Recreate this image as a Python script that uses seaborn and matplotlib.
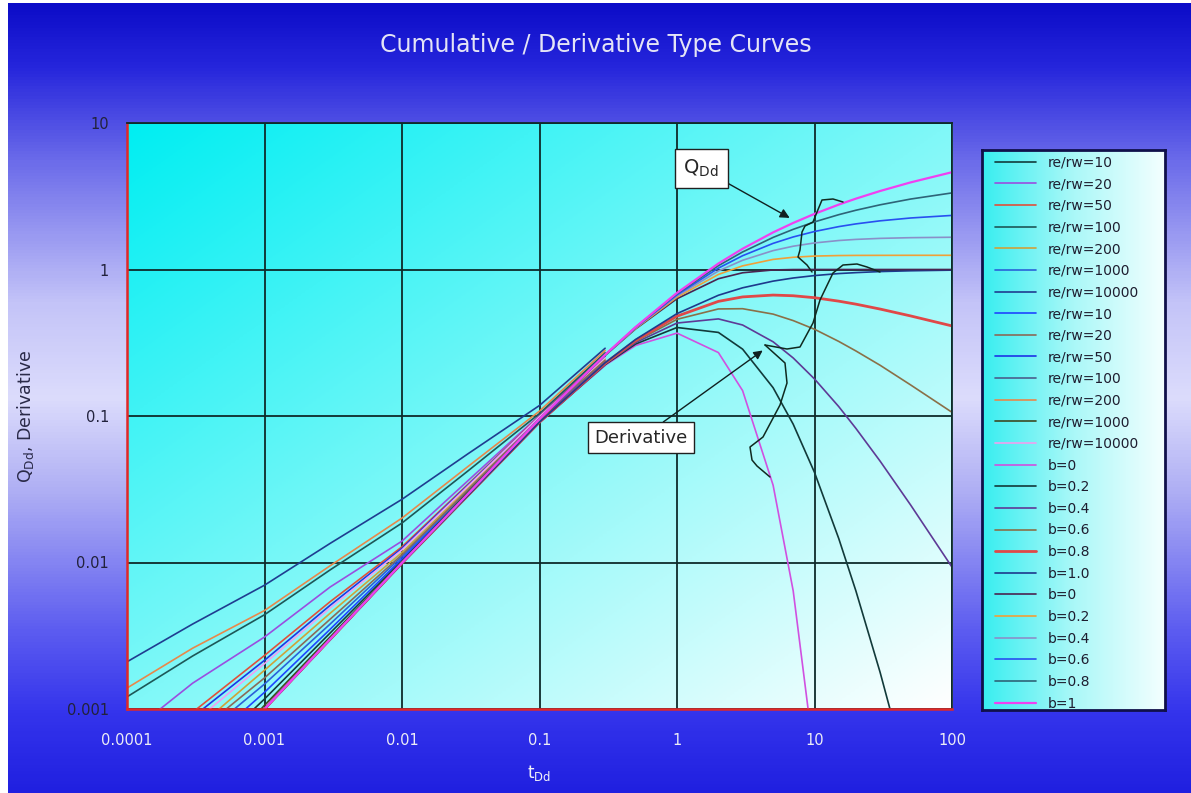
import numpy as np
import pandas as pd
import seaborn as sns
import matplotlib.pyplot as plt
from matplotlib.colors import LinearSegmentedColormap
from matplotlib.lines import Line2D

sns.set_style("white")
plt.rcParams['font.family'] = ['DejaVu Sans']
plt.rcParams['mathtext.fontset'] = 'dejavusans'

W, H = 1191, 793

# ---- data ----
re_rw = [10, 20, 50, 100, 200, 1000, 10000]
b_deriv_names = ["0", "0.2", "0.4", "0.6", "0.8", "1.0"]
b_cum_names = ["0", "0.2", "0.4", "0.6", "0.8", "1"]

# transient stems (early time)
t_stem = [0.0001, 0.0003, 0.001, 0.003, 0.01, 0.03, 0.1, 0.3]
stems_1 = [
    [0.00012, 0.0004, 0.00117, 0.0033, 0.0103, 0.0302, 0.094, 0.228],
    [0.00066, 0.0015, 0.0031, 0.0068, 0.0140, 0.036, 0.101, 0.265],
    [0.00042, 0.00095, 0.00232, 0.0054, 0.0128, 0.034, 0.100, 0.26],
    [0.00121, 0.0023, 0.0044, 0.0089, 0.0186, 0.042, 0.104, 0.27],
    [0.00027, 0.0007, 0.00184, 0.0045, 0.0117, 0.032, 0.098, 0.245],
    [0.0002, 0.00058, 0.00148, 0.0038, 0.0110, 0.031, 0.096, 0.235],
    [0.0021, 0.0038, 0.0070, 0.0135, 0.027, 0.055, 0.118, 0.29],
]
stems_2 = [
    [0.00016, 0.00048, 0.0013, 0.0035, 0.0106, 0.030, 0.095, 0.23],
    [0.00024, 0.00065, 0.00163, 0.0041, 0.0113, 0.031, 0.097, 0.24],
    [0.00036, 0.00088, 0.00215, 0.0051, 0.0125, 0.0335, 0.099, 0.255],
    [0.0001, 0.0003, 0.00101, 0.00302, 0.0100, 0.0297, 0.092, 0.222],
    [0.00139, 0.0026, 0.0047, 0.0095, 0.0201, 0.045, 0.108, 0.28],
    [0.0001, 0.00031, 0.00106, 0.0031, 0.0101, 0.030, 0.093, 0.225],
    [0.00033, 0.0008, 0.00204, 0.0049, 0.0122, 0.033, 0.099, 0.25],
]

# depletion curves
t_b = [0.001, 0.01, 0.1, 0.3, 0.5, 1, 2, 3, 5, 7, 10, 15, 20, 30, 50, 100]
deriv_b = [
    [0.001, 0.0099, 0.0905, 0.222, 0.303, 0.368, 0.271, 0.149, 0.0337, 0.0064, 0.00045, None, None, None, None, None],
    [0.001, 0.0099, 0.0906, 0.224, 0.310, 0.402, 0.372, 0.286, 0.156, 0.0879, 0.0412, 0.0146, 0.0064, 0.00178, 0.0003, None],
    [0.001, 0.0099, 0.0906, 0.226, 0.317, 0.431, 0.460, 0.418, 0.321, 0.249, 0.179, 0.116, 0.0823, 0.0492, 0.0247, 0.0093],
    [0.001, 0.0099, 0.0907, 0.228, 0.323, 0.457, 0.538, 0.540, 0.496, 0.448, 0.391, 0.323, 0.278, 0.222, 0.163, 0.106],
    [0.001, 0.0099, 0.0908, 0.229, 0.328, 0.480, 0.606, 0.650, 0.669, 0.662, 0.642, 0.608, 0.580, 0.537, 0.482, 0.412],
    [0.001, 0.0099, 0.0909, 0.231, 0.333, 0.500, 0.667, 0.750, 0.833, 0.875, 0.909, 0.938, 0.952, 0.968, 0.980, 0.990],
]
cum_b = [
    [0.001, 0.00995, 0.0952, 0.259, 0.393, 0.632, 0.865, 0.950, 0.993, 0.999, 1.0, 1.0, 1.0, 1.0, 1.0, 1.0],
    [0.001, 0.00995, 0.0952, 0.260, 0.396, 0.647, 0.925, 1.059, 1.172, 1.212, 1.235, 1.245, 1.248, 1.249, 1.25, 1.25],
    [0.001, 0.00995, 0.0953, 0.260, 0.399, 0.660, 0.977, 1.156, 1.346, 1.442, 1.518, 1.577, 1.605, 1.631, 1.649, 1.660],
    [0.001, 0.00995, 0.0953, 0.260, 0.401, 0.672, 1.022, 1.242, 1.508, 1.668, 1.817, 1.962, 2.048, 2.149, 2.247, 2.340],
    [0.001, 0.00996, 0.0955, 0.261, 0.404, 0.684, 1.062, 1.317, 1.656, 1.880, 2.113, 2.367, 2.538, 2.764, 3.026, 3.333],
    [0.001, 0.00995, 0.0953, 0.262, 0.405, 0.693, 1.099, 1.386, 1.792, 2.079, 2.398, 2.773, 3.045, 3.434, 3.932, 4.615],
]

x_ticks = [0.0001, 0.001, 0.01, 0.1, 1, 10, 100]
x_tick_labels = ["0.0001", "0.001", "0.01", "0.1", "1", "10", "100"]
y_ticks = [0.001, 0.01, 0.1, 1, 10]
y_tick_labels = ["0.001", "0.01", "0.1", "1", "10"]

colors_stem1 = ['#123c3c', '#9a4ee0', '#e0503a', '#1d5858', '#cfa23a', '#2a62d8', '#1f3d90']
colors_stem2 = ['#1e46ff', '#8a6a58', '#1c34e6', '#4a5f8c', '#e8884a', '#3c4a24', '#f0a0f0']
colors_deriv = ['#d050e0', '#123a3a', '#5e3a96', '#8a7048', '#e04848', '#1d3a8c']
colors_cum = ['#4a2450', '#f0a038', '#8a90c8', '#2850f0', '#2e6478', '#f040f0']

# hand-drawn connector squiggles of the original (figure pixels)
squiggles = [
    [(843, 202), (833, 199), (822, 200), (817, 212), (813, 222), (805, 226), (802, 232),
     (800, 250), (798, 257), (807, 265), (812, 272)],
    [(765, 345), (787, 349), (800, 347), (813, 323), (820, 300), (833, 273), (843, 265),
     (857, 264), (867, 267), (880, 272)],
    [(765, 345), (785, 363), (787, 383), (780, 405), (763, 437), (750, 447), (752, 460),
     (757, 466), (770, 477)],
]

# ---- figure and backgrounds ----
fig = plt.figure(figsize=(W / 100, H / 100), dpi=100)
fig.patch.set_facecolor('white')

bg = fig.add_axes([8 / W, 0, 1 - 8 / W, 1 - 3 / H], zorder=-5)
bg_cmap = LinearSegmentedColormap.from_list('bgv', [
    (0.0, '#0c0cc8'), (0.08, '#2626dc'), (0.2, '#6c6cea'), (0.38, '#c4c4f8'),
    (0.5, '#dcdcfc'), (0.62, '#aeaef4'), (0.8, '#5a5af0'), (0.9, '#3434ec'), (1.0, '#2020e0')])
bg.imshow(np.linspace(0, 1, 256)[:, None], aspect='auto', cmap=bg_cmap,
          extent=[0, 1, 0, 1], origin='upper')
bg.axis('off')

pos = [127 / W, 1 - 709 / H, (952 - 127) / W, (709 - 123) / H]
pbg = fig.add_axes(pos, zorder=0)
u = np.linspace(0, 1, 200)
gx, gy = np.meshgrid(u, u)
plot_cmap = LinearSegmentedColormap.from_list('cy', ['#00eef2', '#80f8f8', '#ffffff'])
pbg.imshow((gx + gy) / 2, cmap=plot_cmap, aspect='auto', extent=[0, 1, 0, 1], origin='upper')
pbg.axis('off')

lg = fig.add_axes([982 / W, 1 - 710 / H, 183 / W, 560 / H], zorder=0.5)
leg_cmap = LinearSegmentedColormap.from_list('lg', ['#38eef0', '#aaf8f8', '#f4ffff'])
lg.imshow(np.linspace(0, 1, 256)[None, :], aspect='auto', cmap=leg_cmap,
          extent=[0, 1, 0, 1])
lg.set_xticks([])
lg.set_yticks([])
for s in lg.spines.values():
    s.set_color('#10104a')
    s.set_linewidth(2)

ax = fig.add_axes(pos, zorder=1)
ax.patch.set_alpha(0)
ax.set_xscale('log')
ax.set_yscale('log')


def draw(x, y, color, label, lw=1.2):
    df = pd.DataFrame({'t': x, 'v': y}).dropna()
    sns.lineplot(data=df, x='t', y='v', color=color, label=label, lw=lw,
                 ax=ax, estimator=None, sort=False)


for vals, c, r in zip(stems_1, colors_stem1, re_rw):
    draw(t_stem, vals, c, f"re/rw={r}")
for vals, c, r in zip(stems_2, colors_stem2, re_rw):
    draw(t_stem, vals, c, f"re/rw={r}")
for vals, c, b in zip(deriv_b, colors_deriv, b_deriv_names):
    draw(t_b, vals, c, f"b={b}", lw=2.0 if b == "0.8" else 1.2)
for vals, c, b in zip(cum_b, colors_cum, b_cum_names):
    draw(t_b, vals, c, f"b={b}", lw=1.6 if b == "1" else 1.2)

ax.set_xlim(1e-4, 100)
ax.set_ylim(1e-3, 10)
ax.set_xticks(x_ticks)
ax.set_xticklabels(x_tick_labels)
ax.set_yticks(y_ticks)
ax.set_yticklabels(y_tick_labels)
ax.minorticks_off()
ax.grid(True, which='major', color='#0e2a2a', lw=1.3)
ax.tick_params(axis='x', colors='#0e2a2a', labelcolor='#ececf6', labelsize=10.5, length=0, pad=17)
ax.tick_params(axis='y', colors='#303040', labelcolor='#22223c', labelsize=10.5, length=7, width=1.2, pad=6)
for side in ['left', 'bottom']:
    ax.spines[side].set_color('#e02828')
    ax.spines[side].set_linewidth(1.8)
for side in ['top', 'right']:
    ax.spines[side].set_color('#0e2a2a')
    ax.spines[side].set_linewidth(1.3)

ax.set_xlabel(r't$_{\mathrm{Dd}}$', color='#f0f0f8', fontsize=12)
ax.xaxis.set_label_coords(0.5, -(763 - 709) / 586)
ax.set_ylabel(r'Q$_{\mathrm{Dd}}$, Derivative', color='#2a2a48', fontsize=12.5)
ax.yaxis.set_label_coords(-(127 - 36) / 825, 0.5)

fig.text(0.5, 1 - 45 / H, 'Cumulative / Derivative Type Curves', ha='center', va='center',
         color='#e4e4f6', fontsize=17)

ax.annotate(r'Q$_{\mathrm{Dd}}$', xy=(6.6, 2.25), xytext=(1.5, 4.9), fontsize=14,
            ha='center', va='center',
            bbox=dict(boxstyle='square,pad=0.45', fc='white', ec='#202020', lw=1),
            arrowprops=dict(arrowstyle='-|>', color='#102020', lw=1, shrinkA=0, shrinkB=0))
ax.annotate('Derivative', xy=(4.2, 0.28), xytext=(0.55, 0.071), fontsize=13,
            ha='center', va='center',
            bbox=dict(boxstyle='square,pad=0.35', fc='white', ec='#202020', lw=1),
            arrowprops=dict(arrowstyle='-|>', color='#102020', lw=1, shrinkA=0, shrinkB=0))

for path in squiggles:
    px = [p[0] / W for p in path]
    py = [1 - p[1] / H for p in path]
    fig.add_artist(Line2D(px, py, color='#102a20', lw=1.1, transform=fig.transFigure, zorder=3))

handles, labels = ax.get_legend_handles_labels()
ax.legend(handles, labels, loc='upper left', bbox_to_anchor=(989 / W, 1 - 150 / H),
          bbox_transform=fig.transFigure, frameon=False, fontsize=10,
          labelspacing=0.55, handlelength=3.0, handletextpad=0.8, borderaxespad=0,
          labelcolor='#1e1e30')

fig.savefig('out.png', dpi=100)
